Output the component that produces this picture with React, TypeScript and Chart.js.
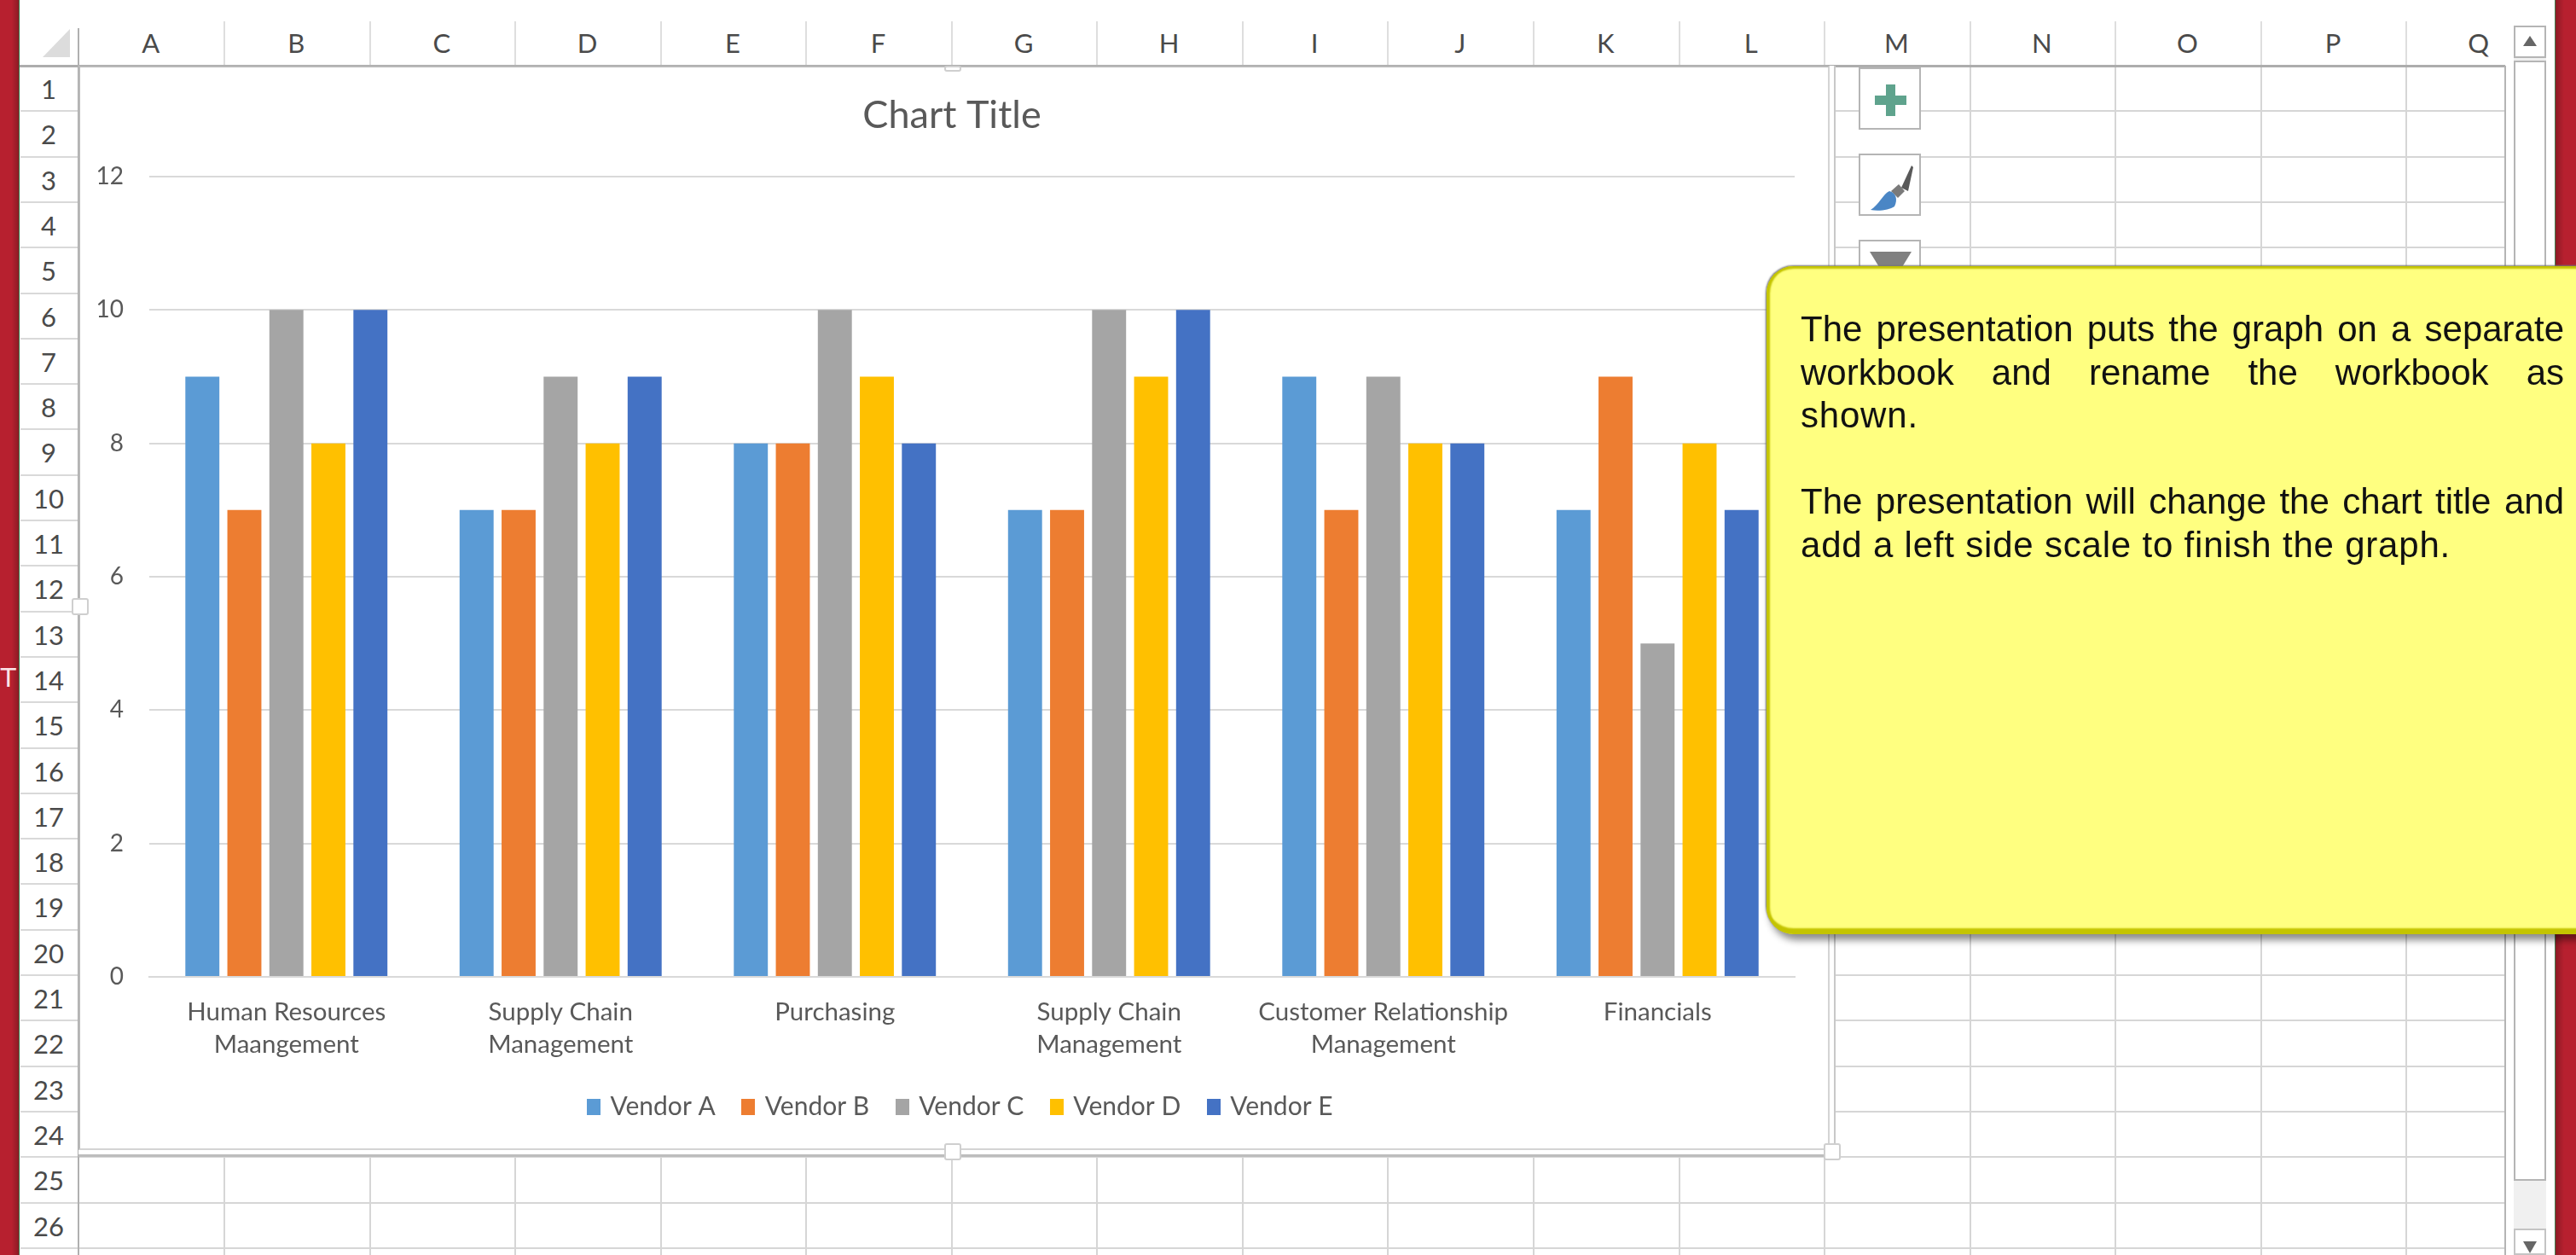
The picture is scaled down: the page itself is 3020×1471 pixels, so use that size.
import React, { useEffect, useRef } from "react";
import { Chart, registerables } from "chart.js";

Chart.register(...registerables);

const categories = [
  ["Human Resources", "Maangement"],
  ["Supply Chain", "Management"],
  ["Purchasing"],
  ["Supply Chain", "Management"],
  ["Customer Relationship", "Management"],
  ["Financials"],
];
const vendorA = [9, 7, 8, 7, 9, 7];
const vendorB = [7, 7, 8, 7, 7, 9];
const vendorC = [10, 9, 10, 10, 9, 5];
const vendorD = [8, 8, 9, 9, 8, 8];
const vendorE = [10, 9, 8, 10, 8, 7];
const yTicks = [0, 2, 4, 6, 8, 10, 12];
const columnLetters = ["A", "B", "C", "D", "E", "F", "G", "H", "I", "J", "K", "L", "M", "N", "O", "P", "Q"];
const rowNumbers = Array.from({ length: 26 }, (_, i) => i + 1);
const noteFullLines = [
  "The presentation puts the graph on a separate",
  "workbook and rename the workbook as",
];
const noteEndOne = "shown.";
const noteFullLineTwo = "The presentation will change the chart title and";
const noteEndTwo = "add a left side scale to finish the graph.";

const COL_W = 170.55;
const COL_X0 = 91.5;
const ROW_H = 53.3;
const ROW_Y0 = 77;
const LATO = "Lato, 'Open Sans', sans-serif";

const abs = (x: number, y: number, w: number, h: number, extra: any = {}) => ({
  position: "absolute" as const,
  left: x,
  top: y,
  width: w,
  height: h,
  ...extra,
});

function swatch(color: string) {
  const c = document.createElement("canvas");
  c.width = 16;
  c.height = 19;
  const g = c.getContext("2d")!;
  g.fillStyle = color;
  g.fillRect(0, 0, 16, 19);
  return c;
}

const shiftBlocks = {
  id: "shiftBlocks",
  afterLayout(chart: any) {
    chart.titleBlock.left += 18;
    chart.titleBlock.right += 18;
    chart.legend.left += 29;
    chart.legend.right += 29;
  },
};

function Sheet() {
  const items: any[] = [];
  columnLetters.forEach((c, i) => {
    const x = COL_X0 + COL_W * i;
    items.push(
      <div key={"ch" + c} style={abs(x, 25, COL_W, 50, { textAlign: "center", font: `31px ${LATO}`, lineHeight: "50px", color: "#4a4a4a" })}>{c}</div>
    );
    if (i > 0) items.push(<div key={"cs" + c} style={abs(x, 25, 2, 52, { background: "#dedede" })} />);
    if (i > 0) items.push(<div key={"cl" + c} style={abs(x, 77, 2, 1394, { background: "#d6d6d6" })} />);
  });
  rowNumbers.forEach((n, i) => {
    const y = ROW_Y0 + ROW_H * i;
    items.push(
      <div key={"rh" + n} style={abs(22, y, 70, ROW_H, { textAlign: "center", font: `31px ${LATO}`, lineHeight: ROW_H + 2 + "px", color: "#4a4a4a" })}>{n}</div>
    );
    items.push(<div key={"rs" + n} style={abs(24, y + ROW_H - 1, 68, 2, { background: "#d9d9d9" })} />);
    items.push(<div key={"rl" + n} style={abs(92, y + ROW_H - 1, 2845, 2, { background: "#d6d6d6" })} />);
  });
  return <>{items}</>;
}

function Handle({ x, y, w = 20, h = 20 }: any) {
  return <div style={abs(x, y, w, h, { background: "#fff", border: "2px solid #cfcfcf", boxSizing: "border-box", borderRadius: 3, zIndex: 4 })} />;
}

function SideButton({ y, h = 73, children }: any) {
  return (
    <div style={abs(2179, y, 73, h, { background: "#fff", border: "2px solid #b5b5b5", boxSizing: "border-box", zIndex: 3 })}>{children}</div>
  );
}

const fullLine: any = { textAlign: "justify", textAlignLast: "justify" };
const endLine: any = { letterSpacing: "0.8px" };

export default function App() {
  const ref = useRef<HTMLCanvasElement>(null);
  useEffect(() => {
    const chart = new Chart(ref.current!, {
      type: "bar",
      data: {
        labels: categories,
        datasets: [
          { label: "Vendor A", data: vendorA, backgroundColor: "#5B9BD5" },
          { label: "Vendor B", data: vendorB, backgroundColor: "#ED7D31" },
          { label: "Vendor C", data: vendorC, backgroundColor: "#A5A5A5" },
          { label: "Vendor D", data: vendorD, backgroundColor: "#FFC000" },
          { label: "Vendor E", data: vendorE, backgroundColor: "#4472C4" },
        ],
      },
      plugins: [shiftBlocks],
      options: {
        responsive: false,
        animation: false,
        layout: { padding: { left: 0, right: 43, top: 0, bottom: 25 } },
        datasets: { bar: { categoryPercentage: 0.766, barPercentage: 0.81 } },
        plugins: {
          tooltip: { enabled: false },
          title: {
            display: true,
            text: "Chart Title",
            color: "#595959",
            font: { family: "Lato", size: 45, weight: "normal" },
            padding: { top: 31, bottom: 45 },
          },
          legend: {
            position: "bottom",
            labels: {
              usePointStyle: true,
              pointStyleWidth: 9,
              boxHeight: 19,
              padding: 34,
              color: "#595959",
              font: { family: "Lato", size: 30 },
              generateLabels: (c: any) =>
                c.data.datasets.map((d: any, i: number) => ({
                  text: d.label,
                  fillStyle: d.backgroundColor,
                  strokeStyle: d.backgroundColor,
                  lineWidth: 0,
                  fontColor: "#595959",
                  pointStyle: swatch(d.backgroundColor),
                  datasetIndex: i,
                })),
            },
          },
        },
        scales: {
          x: {
            afterFit: (s: any) => { s.height = 103; },
            grid: { display: false, drawTicks: false },
            border: { color: "#d9d9d9", width: 2 },
            ticks: {
              autoSkip: false,
              maxRotation: 0,
              padding: 22,
              color: "#595959",
              font: { family: "Lato", size: 29.5, lineHeight: 1.29 },
            },
          },
          y: {
            min: yTicks[0],
            max: yTicks[yTicks.length - 1],
            afterFit: (s: any) => { s.width = 83; },
            afterBuildTicks: (s: any) => { s.ticks = yTicks.map((value) => ({ value })); },
            grid: { color: "#d9d9d9", lineWidth: 2, drawTicks: false },
            border: { display: false },
            ticks: {
              padding: 30,
              color: "#595959",
              font: { family: "Lato", size: 28 },
            },
          },
        },
      },
    } as any);
    return () => chart.destroy();
  }, []);

  return (
    <div style={{ position: "fixed", left: 0, top: 0, width: 3020, height: 1471, overflow: "hidden", background: "#fff" }}>
      <Sheet />
      {/* frame pieces */}
      <div style={abs(50, 34, 32, 33, { background: "#dcdcdc", clipPath: "polygon(100% 0, 100% 100%, 0 100%)" })} />
      <div style={abs(22, 76, 2915, 3, { background: "#adadad" })} />
      <div style={abs(91, 33, 2, 1438, { background: "#b0b0b0" })} />
      <div style={abs(2936, 77, 2, 1394, { background: "#b4b4b4" })} />

      {/* scrollbar */}
      <div style={abs(2947, 68, 38, 1403, { background: "#f0f0f0" })} />
      <div style={abs(2947, 30, 38, 38, { background: "#fff", border: "2px solid #b5b5b5", boxSizing: "border-box" })}>
        <div style={abs(9, 10, 16, 12, { background: "#666", clipPath: "polygon(50% 0, 100% 100%, 0 100%)" })} />
      </div>
      <div style={abs(2947, 71, 38, 1313, { background: "#fff", border: "2px solid #b5b5b5", boxSizing: "border-box" })} />
      <div style={abs(2947, 1440, 38, 31, { background: "#fff", border: "2px solid #c4c4c4", boxSizing: "border-box" })}>
        <div style={abs(9, 13, 16, 14, { background: "#666", clipPath: "polygon(0 0, 100% 0, 50% 100%)" })} />
      </div>

      {/* red window edges */}
      <div style={abs(0, 0, 22, 1471, { background: "linear-gradient(90deg,#b7202f 0%,#b7202f 62%,#8c1b25 100%)", borderRight: "1.5px solid #3f7f50" })} />
      <div style={abs(2995, 0, 25, 1471, { background: "linear-gradient(90deg,#8c1b25 0%,#b7202f 40%,#b7202f 100%)", borderLeft: "1.5px solid #3f7f50" })} />
      <div style={abs(0, 776, 20, 36, { color: "#fbe4e8", font: "32px 'Liberation Sans'", lineHeight: "36px" })}>T</div>

      {/* chart object */}
      <div style={abs(92, 77, 2060, 1279, { background: "#fff", borderRight: "2px solid #c8c8c8", borderBottom: "3px solid #bdbdbd", boxSizing: "border-box", zIndex: 1 })} />
      <div style={abs(92, 77, 2053, 1271, { borderRight: "2px solid #d4d4d4", borderBottom: "2px solid #d4d4d4", borderTop: "2px solid #b9b9b9", borderLeft: "2px solid #b9b9b9", boxSizing: "border-box", zIndex: 2 })} />
      <div style={abs(92, 77, 2055, 1270, { zIndex: 2 })}>
        <canvas ref={ref} width={2055} height={1270} style={{ display: "block" }} />
      </div>
      <Handle x={1107} y={77} h={7} />
      <Handle x={1107} y={1340} />
      <Handle x={2138} y={1340} />
      <Handle x={84} y={701} />

      {/* chart side buttons */}
      <SideButton y={79}>
        <div style={abs(17, 31, 37, 11, { background: "#5fa38d" })} />
        <div style={abs(30, 18, 11, 37, { background: "#5fa38d" })} />
      </SideButton>
      <SideButton y={180}>
        <svg width="69" height="69" style={{ position: "absolute", left: 0, top: 0 }}>
          <path d="M48 38 L60 12 L62 14 L56 42 Z" fill="#595959" />
          <path d="M36 42 L45 34 L52 42 L44 50 Z" fill="#7a7a7a" />
          <path d="M34 42 C42 44 44 52 40 60 C34 64 22 66 12 64 C22 58 26 46 34 42 Z" fill="#4a86c5" />
        </svg>
      </SideButton>
      <SideButton y={281} h={60}>
        <div style={abs(11, 12, 49, 40, { background: "#808080", clipPath: "polygon(0 0,100% 0,70% 60%,30% 60%)" })} />
      </SideButton>

      {/* note */}
      <div
        style={abs(2071, 312, 1050, 783, {
          background: "#ffff80",
          borderRadius: 32,
          boxSizing: "border-box",
          zIndex: 5,
          boxShadow:
            "inset 5px 0 2px -1px #c4c400, inset 0 4px 2px -1px #c4c400, inset 0 -9px 2px -2px #c4c400, -1px -1px 2px #777, 4px 7px 9px rgba(0,0,0,0.45)",
        })}
      />
      <div style={abs(2111, 361, 895, 400, { zIndex: 6, font: "42px 'Liberation Sans', Arial, sans-serif", lineHeight: "50.5px", color: "#111" })}>
        {noteFullLines.map((t) => (
          <div key={t} style={fullLine}>{t}</div>
        ))}
        <div style={endLine}>{noteEndOne}</div>
        <div style={{ height: 50.5 }} />
        <div style={fullLine}>{noteFullLineTwo}</div>
        <div style={endLine}>{noteEndTwo}</div>
      </div>
    </div>
  );
}
